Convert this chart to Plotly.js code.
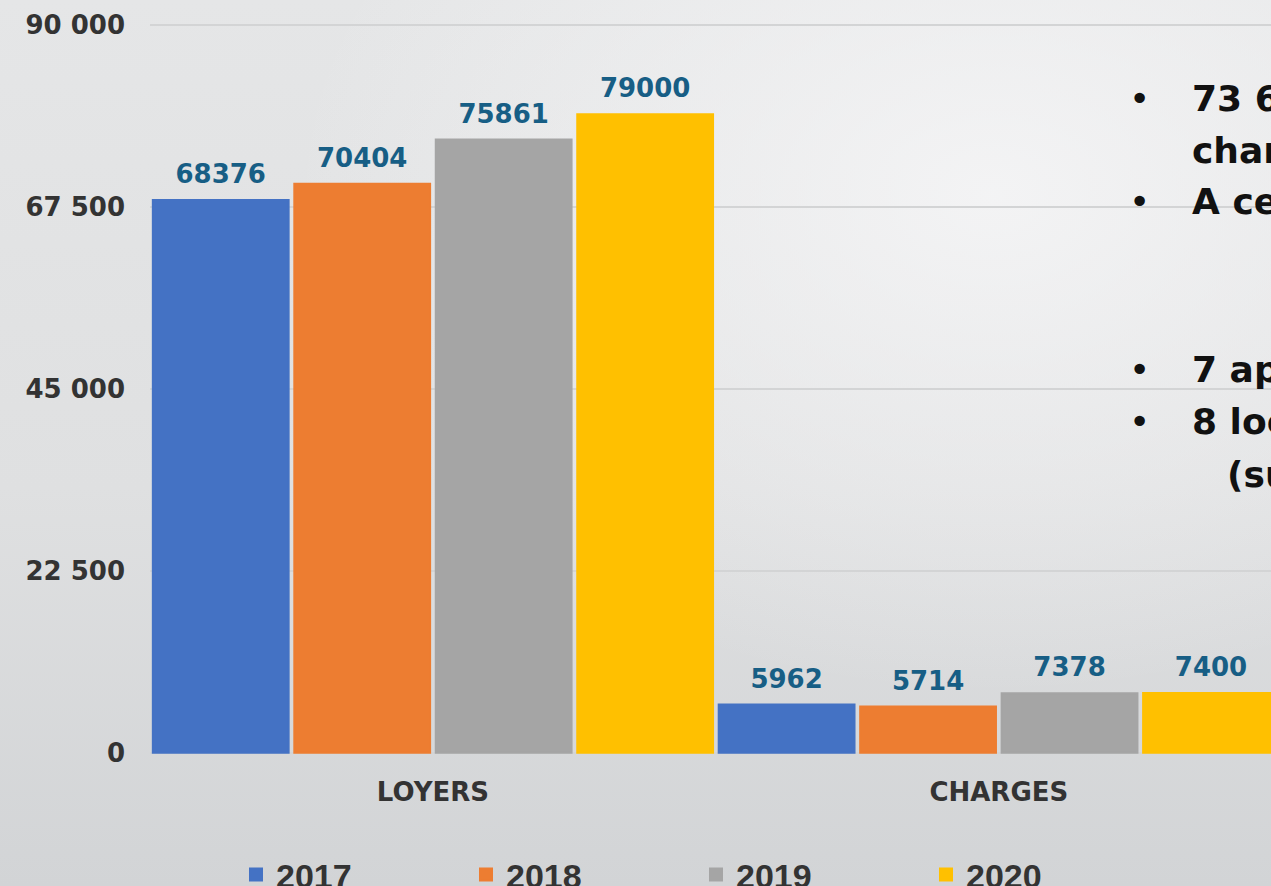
<!DOCTYPE html>
<html>
<head>
<meta charset="utf-8">
<script src="https://cdn.plot.ly/plotly-3.0.1.min.js"></script>
<style>
  html, body { margin:0; padding:0; width:1271px; height:886px; overflow:hidden; }
  body {
    background:
      radial-gradient(ellipse 700px 500px at 78% 22%, rgba(246,246,247,0.85) 0%, rgba(246,246,247,0) 100%),
      linear-gradient(to bottom, #e5e6e7 0%, #dfe0e1 55%, #d2d4d6 100%);
  }
  #chart { width:1271px; height:886px; }
</style>
</head>
<body>
<div id="chart"></div>
<script>
// ---- data ----
const categories = ['LOYERS', 'CHARGES'];
const years = ['2017', '2018', '2019', '2020'];
const v2017 = [68376, 5962];
const v2018 = [70404, 5714];
const v2019 = [75861, 7378];
const v2020 = [79000, 7400];
const seriesValues = [v2017, v2018, v2019, v2020];
const colors = ['#4472C4', '#ED7D31', '#A5A5A5', '#FFC000'];
const yTickVals = [0, 22500, 45000, 67500, 90000];
const yTickText = ['0', '22 500', '45 000', '67 500', '90 000'];
const noteLines = ['73 6', 'char', 'A ce', '7 ap', '8 loc', '(su'];
const noteBullets = [true, false, true, true, true, false];

// ---- styles ----
const labelFont = {family: 'DejaVu Sans', size: 26, color: '#175E85', weight: 'bold'};
const axisFont = {family: 'DejaVu Sans', size: 26, color: '#333333', weight: 'bold'};

const traces = [];
years.forEach((yr, i) => {
  traces.push({
    type: 'bar', name: yr, x: categories, y: seriesValues[i],
    marker: {color: colors[i], line: {color: colors[i], width: 2}},
    hoverinfo: 'skip'
  });
});
years.forEach((yr, i) => {
  traces.push({
    type: 'scatter', mode: 'markers+text', orientation: 'v',
    x: categories, y: seriesValues[i],
    text: seriesValues[i].map(v => String(v)),
    textposition: 'top center', textfont: labelFont,
    marker: {size: 15, opacity: 0, color: colors[i]},
    cliponaxis: false, showlegend: false, hoverinfo: 'skip'
  });
});

// right-side text (cut by the picture edge)
const noteY = [0.898, 0.827, 0.757, 0.527, 0.456, 0.383];
const noteX = [0.9277, 0.9277, 0.9277, 0.9277, 0.9277, 0.959];
const annotations = [];
noteLines.forEach((t, i) => {
  annotations.push({
    xref: 'paper', yref: 'paper', x: noteX[i], y: noteY[i],
    xanchor: 'left', yanchor: 'middle', showarrow: false,
    text: '<b>' + t + '</b>',
    font: {family: 'DejaVu Sans', size: 36, color: '#111111'}
  });
  if (noteBullets[i]) {
    annotations.push({
      xref: 'paper', yref: 'paper', x: 0.8831, y: noteY[i],
      xanchor: 'center', yanchor: 'middle', showarrow: false,
      text: '•',
      font: {family: 'DejaVu Sans', size: 36, color: '#111111'}
    });
  }
});

const layout = {
  width: 1271, height: 886,
  margin: {l: 150, r: 0, t: 23.8, b: 131.8, autoexpand: false},
  paper_bgcolor: 'rgba(0,0,0,0)', plot_bgcolor: 'rgba(0,0,0,0)',
  barmode: 'group', bargap: 0, bargroupgap: 0.04,
  scattermode: 'group', scattergap: 0,
  showlegend: true,
  xaxis: {
    type: 'category', range: [-0.5, 1.481],
    showgrid: false, zeroline: false, showline: false, ticks: '',
    ticklabelstandoff: 20, tickfont: axisFont, fixedrange: true
  },
  yaxis: {
    range: [-150, 90150], tickvals: yTickVals, ticktext: yTickText,
    showgrid: true, gridcolor: '#d3d4d5', gridwidth: 2,
    zeroline: false, showline: false, ticks: '',
    ticklabelstandoff: 24, tickfont: axisFont, fixedrange: true
  },
  legend: {
    orientation: 'h', xref: 'container', yref: 'container',
    x: 236 / 1271, xanchor: 'left', y: 1 - 846 / 886, yanchor: 'top',
    font: {family: 'Liberation Sans', size: 34, color: '#333333', weight: 'bold'},
    entrywidth: 185, entrywidthmode: 'pixels',
    bgcolor: 'rgba(0,0,0,0)', itemclick: false, itemdoubleclick: false
  },
  annotations: annotations,
  hovermode: false
};

Plotly.newPlot('chart', traces, layout, {displayModeBar: false, staticPlot: true});
</script>
</body>
</html>
